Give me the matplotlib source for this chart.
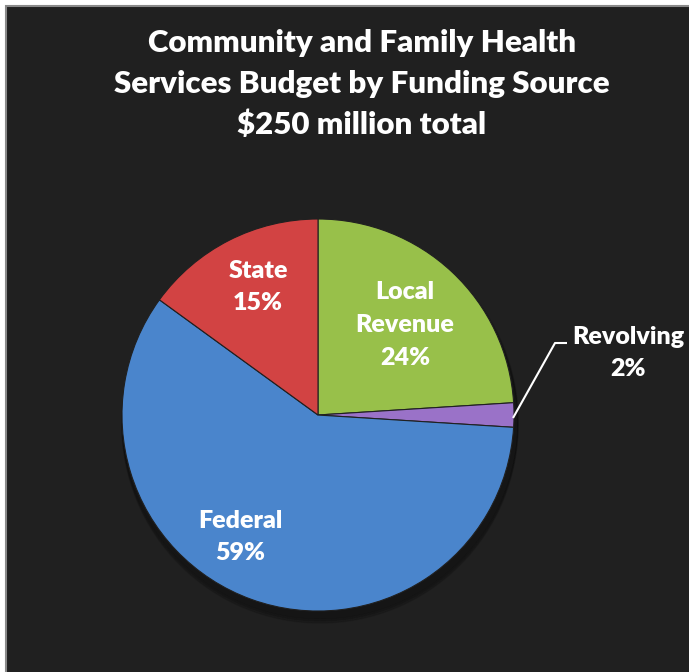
import matplotlib.pyplot as plt
from matplotlib.patches import Rectangle

# data
labels = ["Local\nRevenue", "Revolving", "Federal", "State"]
shares = [24, 2, 59, 15]
colors = ["#98c04a", "#9a72c8", "#4a85cc", "#d24343"]
explode = [0, 0, 0.035, 0]

title = "Community and Family Health\nServices Budget by Funding Source\n$250 million total"

W, H = 689, 672
fig = plt.figure(figsize=(W / 100, H / 100), dpi=100)
fig.patch.set_facecolor("white")
ax = fig.add_axes([0, 0, 1, 1])
ax.set_xlim(0, W)
ax.set_ylim(0, H)
ax.axis("off")

# dark panel with grey border
ax.add_patch(Rectangle((6, -2), W, H - 6 + 2, facecolor="#202020",
                       edgecolor="#8a8a8a", lw=1.5, zorder=0))

cx, cy, r = 318, H - 415, 196

# soft shadow
for k, a in enumerate([0.10, 0.10, 0.12]):
    ax.add_patch(plt.Circle((cx + 2, cy - 6 - 2 * k), r + 2, color="black",
                            alpha=a, zorder=1))

wedges, _ = ax.pie(shares, colors=colors, startangle=90, counterclock=False,
                   explode=explode, center=(cx, cy), radius=r, frame=True,
                   wedgeprops=dict(edgecolor="#202020", linewidth=0.8))
ax.set_xlim(0, W)
ax.set_ylim(0, H)
ax.set_aspect("equal")
ax.axis("off")
for w in wedges:
    w.set_zorder(2)

font = ["Lato", "DejaVu Sans"]

ax.text(362, H - 84, title, ha="center", va="center", color="white",
        fontsize=22.5, fontweight="heavy", family=font, linespacing=1.56)

lab_kw = dict(ha="center", va="center", color="white", fontsize=18,
              fontweight="heavy", family=font, linespacing=1.6, zorder=5)

ax.text(258, H - 287, f"{labels[3]}\n{shares[3]}%", **lab_kw)
ax.text(405, H - 325, f"{labels[0]}\n{shares[0]}%", **lab_kw)
ax.text(240, H - 537, f"{labels[2]}\n{shares[2]}%", **lab_kw)
ax.text(628, H - 353, f"{labels[1]}\n{shares[1]}%", **lab_kw)

# leader line for the small slice
ax.plot([513, 555, 567], [H - 418, H - 343, H - 343], color="white", lw=1.5,
        zorder=5, solid_capstyle="butt")

fig.savefig("out.png", dpi=100, facecolor=fig.get_facecolor())
